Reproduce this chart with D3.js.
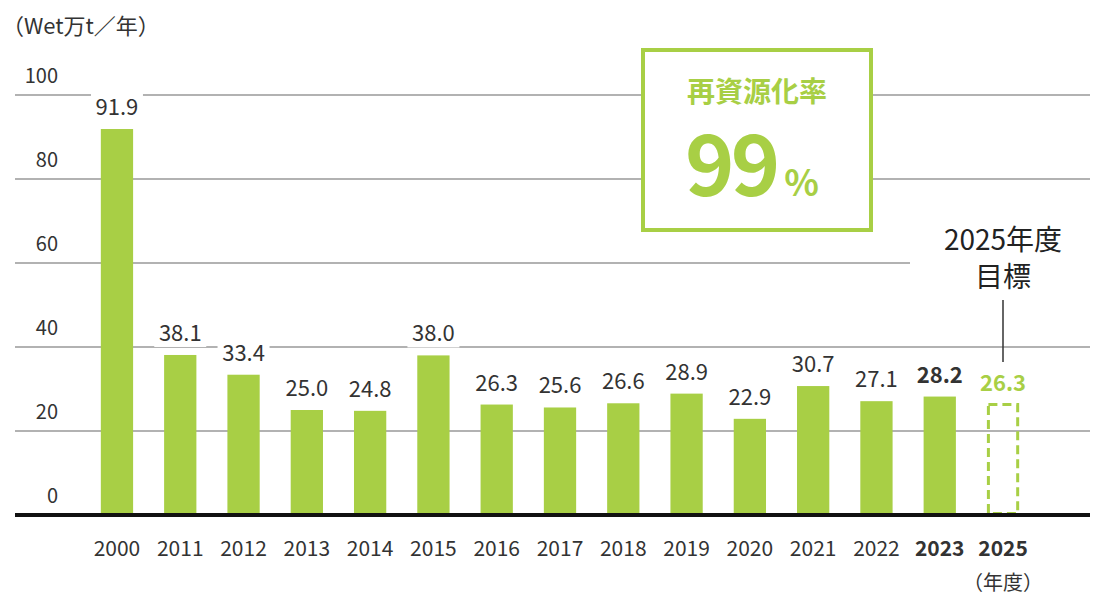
<!DOCTYPE html>
<html><head><meta charset="utf-8">
<script src="https://cdn.jsdelivr.net/npm/d3@7"></script>
<style>body{margin:0;background:#fff}text{font-family:"Noto Sans CJK JP","Noto Sans",sans-serif}</style>
</head><body><div id="chart"></div>
<script>
const years = ["2000","2011","2012","2013","2014","2015","2016","2017","2018","2019","2020","2021","2022","2023","2025"];
const values = [91.9,38.1,33.4,25.0,24.8,38.0,26.3,25.6,26.6,28.9,22.9,30.7,27.1,28.2,26.3];
const yTicks = [0,20,40,60,80,100];
const green = "#a8cf45", ink = "#333";

const svg = d3.select("#chart").append("svg").attr("width",1100).attr("height",608);
const x = d3.scaleBand().domain(years).range([85,1035]).paddingInner(0.49).paddingOuter(0.25);
const y = d3.scaleLinear().domain([0,100]).range([515,95]);

// gridlines
svg.selectAll(".grid").data(yTicks.filter(d=>d>0)).enter().append("line")
  .attr("x1",15).attr("x2",1090).attr("y1",d=>y(d)).attr("y2",d=>y(d))
  .attr("stroke","#999").attr("stroke-width",1.5);
svg.selectAll(".ytl").data(yTicks).enter().append("text")
  .attr("x",58).attr("y",d=>y(d)-12).attr("text-anchor","end")
  .attr("font-size",20).attr("fill",ink).text(d=>d);
svg.append("text").attr("x",2).attr("y",34).attr("font-size",22).attr("fill",ink).text("（Wet万t／年）");

// bars
const solid = years.slice(0,-1);
svg.selectAll(".bar").data(solid).enter().append("rect")
  .attr("x",d=>x(d)).attr("width",x.bandwidth())
  .attr("y",(d,i)=>y(values[i])).attr("height",(d,i)=>y(0)-y(values[i])).attr("fill",green);
const last = years.length-1;
svg.append("rect").attr("x",x(years[last])+1.5).attr("width",x.bandwidth()-3)
  .attr("y",y(values[last])).attr("height",y(0)-y(values[last])-1.5)
  .attr("fill","none").attr("stroke",green).attr("stroke-width",3).attr("stroke-dasharray","9,5");

// target annotation
svg.append("rect").attr("x",910).attr("y",218).attr("width",180).attr("height",80).attr("fill","#fff");
svg.append("text").attr("x",1003).attr("y",250).attr("text-anchor","middle").attr("font-size",28).attr("fill","#222").text("2025年度");
svg.append("text").attr("x",1003).attr("y",287).attr("text-anchor","middle").attr("font-size",28).attr("fill","#222").text("目標");
svg.append("line").attr("x1",1003).attr("x2",1003).attr("y1",300).attr("y2",362).attr("stroke","#333").attr("stroke-width",1.5);

// value labels with white backing
const lab = svg.selectAll(".val").data(years).enter().append("g")
  .attr("transform",(d,i)=>`translate(${x(d)+x.bandwidth()/2},${y(values[i])-14})`);
lab.append("rect").attr("x",-26).attr("y",-22).attr("width",52).attr("height",28).attr("fill","#fff");
lab.append("text").attr("text-anchor","middle").attr("font-size",22)
  .attr("font-weight",(d,i)=>i>=13?"bold":"normal")
  .attr("fill",(d,i)=>i===last?green:ink).text((d,i)=>values[i].toFixed(1));

// axis
svg.append("line").attr("x1",15).attr("x2",1090).attr("y1",y(0)).attr("y2",y(0)).attr("stroke","#111").attr("stroke-width",4);
svg.selectAll(".xt").data(years).enter().append("text")
  .attr("x",d=>x(d)+x.bandwidth()/2).attr("y",556).attr("text-anchor","middle")
  .attr("font-size",21).attr("font-weight",(d,i)=>i>=13?"bold":"normal").attr("fill",ink).text(d=>d);
svg.append("text").attr("x",1003).attr("y",590).attr("text-anchor","middle").attr("font-size",20).attr("fill",ink).text("（年度）");

// box
svg.append("rect").attr("x",643).attr("y",50).attr("width",228).attr("height",180)
  .attr("fill","#fff").attr("stroke",green).attr("stroke-width",4);
svg.append("text").attr("x",757).attr("y",102).attr("text-anchor","middle").attr("font-size",28).attr("font-weight","bold").attr("fill",green).text("再資源化率");
const big = svg.append("text").attr("x",752).attr("y",196).attr("text-anchor","middle").attr("fill",green).attr("font-weight","bold");
big.append("tspan").attr("font-size",84).attr("letter-spacing",-4).text("99");
big.append("tspan").attr("font-size",36).attr("dx",8).text("%");
</script></body></html>
